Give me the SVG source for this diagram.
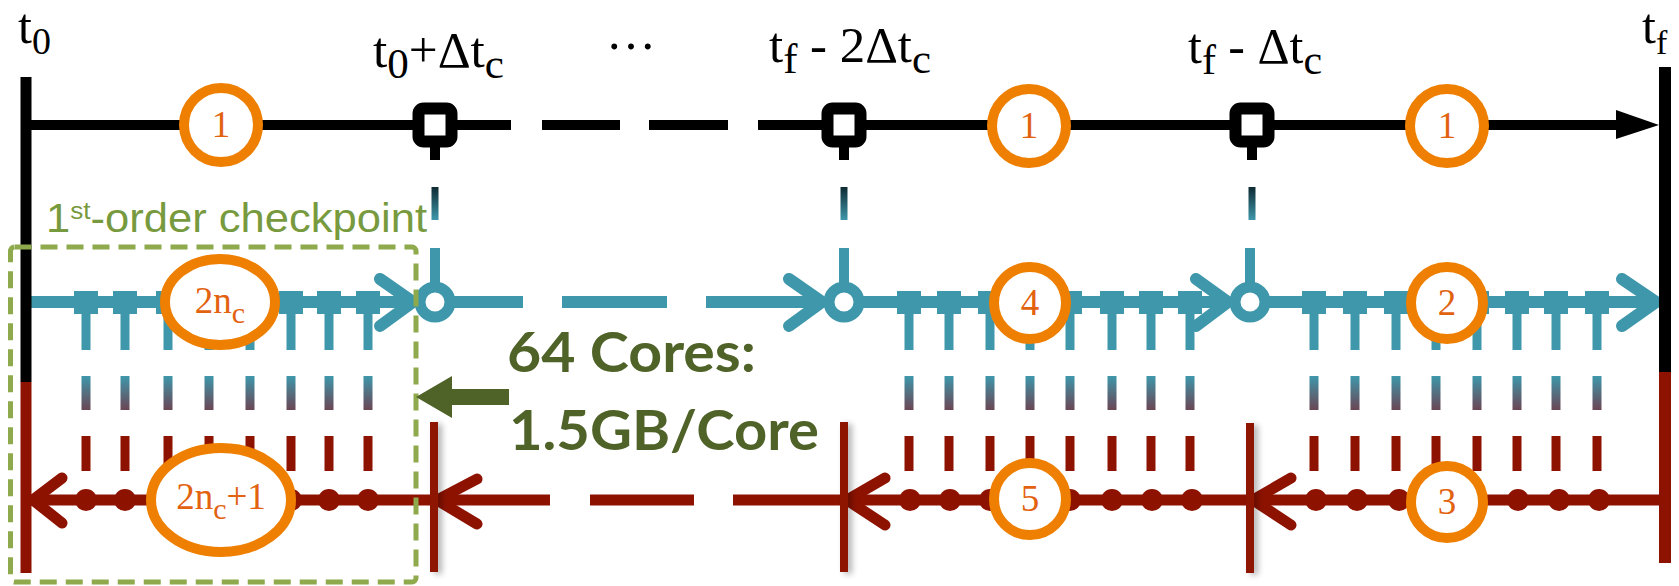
<svg xmlns="http://www.w3.org/2000/svg" width="1679" height="586" viewBox="0 0 1679 586">
<style>
.blk{stroke:#000;stroke-width:10;fill:none}
.tl{stroke:#3F97AB;stroke-width:12;fill:none}
.tlc{stroke:#3F97AB;stroke-width:12;fill:none;stroke-linecap:round;stroke-linejoin:round}
.rd{stroke:#8E1200;stroke-width:11;fill:none}
.rdc{stroke:#8E1200;stroke-width:11;fill:none;stroke-linecap:round;stroke-linejoin:round}
.stem{stroke:#3F97AB;stroke-width:9}
.oc{fill:#fff;stroke:#EE7F00;stroke-width:10}
.num{font-family:"Liberation Serif",serif;font-size:37px;fill:#E2620F;text-anchor:middle}
.lbl{font-family:"Liberation Serif",serif;font-size:50px;fill:#000}
.big{font-family:Lato,"Liberation Sans",sans-serif;font-weight:bold;font-size:56px;fill:#4F6228}
</style>
<defs>
<linearGradient id="g1" x1="0" y1="0" x2="0" y2="1"><stop offset="0" stop-color="#0E2A33"/><stop offset="1" stop-color="#3F97AB"/></linearGradient>
<linearGradient id="g2" x1="0" y1="0" x2="0" y2="1"><stop offset="0" stop-color="#3F97AB"/><stop offset="1" stop-color="#6B4654"/></linearGradient>
<filter id="sh" x="-2" y="-0.1" width="5" height="1.2"><feGaussianBlur in="SourceAlpha" stdDeviation="3"/><feOffset dx="4" dy="2"/><feComponentTransfer><feFuncA type="linear" slope="0.3"/></feComponentTransfer><feMerge><feMergeNode/><feMergeNode in="SourceGraphic"/></feMerge></filter>
</defs>
<rect width="1679" height="586" fill="#fff"/>

<g id="connectors">
  <line class="blk" x1="26" y1="125" x2="511" y2="125"/>
  <line class="blk" x1="542" y1="125" x2="620" y2="125"/>
  <line class="blk" x1="649" y1="125" x2="728" y2="125"/>
  <line class="blk" x1="758" y1="125" x2="1620" y2="125"/>
  <polygon points="1616,110 1659,125 1616,139" fill="#000"/>
  <g id="links">
    <line x1="435" y1="146" x2="435" y2="160" stroke="#000" stroke-width="10"/>
    <rect x="431.5" y="187" width="7" height="33" fill="url(#g1)"/>
    <line x1="435" y1="248" x2="435" y2="290" stroke="#3F97AB" stroke-width="10"/>
    <line x1="844" y1="146" x2="844" y2="160" stroke="#000" stroke-width="10"/>
    <rect x="840.5" y="187" width="7" height="33" fill="url(#g1)"/>
    <line x1="844" y1="248" x2="844" y2="290" stroke="#3F97AB" stroke-width="10"/>
    <line x1="1252" y1="146" x2="1252" y2="160" stroke="#000" stroke-width="10"/>
    <rect x="1248.5" y="187" width="7" height="33" fill="url(#g1)"/>
    <line x1="1250" y1="248" x2="1250" y2="290" stroke="#3F97AB" stroke-width="10"/>
  </g>
  <line class="tl" x1="31" y1="302" x2="412" y2="302"/>
  <polyline class="tlc" points="380,279 413,302 380,326"/>
  <line class="tl" x1="450" y1="302" x2="523" y2="302"/>
  <line class="tl" x1="562" y1="302" x2="667" y2="302"/>
  <line class="tl" x1="706" y1="302" x2="820" y2="302"/>
  <polyline class="tlc" points="789,279 822,302 789,326"/>
  <line class="tl" x1="859" y1="302" x2="1226" y2="302"/>
  <polyline class="tlc" points="1196,279 1228,302 1196,326"/>
  <line class="tl" x1="1265" y1="302" x2="1654" y2="302"/>
  <polyline class="tlc" points="1622,279 1656,302 1622,326"/>
  <g id="teal-ticks" fill="#3F97AB">
    <g transform="translate(86,0)"><rect x="-12" y="291" width="24" height="23"/><line class="stem" x1="0" y1="303" x2="0" y2="350"/></g>
    <g transform="translate(125,0)"><rect x="-12" y="291" width="24" height="23"/><line class="stem" x1="0" y1="303" x2="0" y2="350"/></g>
    <g transform="translate(168,0)"><rect x="-12" y="291" width="24" height="23"/><line class="stem" x1="0" y1="303" x2="0" y2="350"/></g>
    <g transform="translate(209,0)"><rect x="-12" y="291" width="24" height="23"/><line class="stem" x1="0" y1="303" x2="0" y2="350"/></g>
    <g transform="translate(250,0)"><rect x="-12" y="291" width="24" height="23"/><line class="stem" x1="0" y1="303" x2="0" y2="350"/></g>
    <g transform="translate(291,0)"><rect x="-12" y="291" width="24" height="23"/><line class="stem" x1="0" y1="303" x2="0" y2="350"/></g>
    <g transform="translate(329,0)"><rect x="-12" y="291" width="24" height="23"/><line class="stem" x1="0" y1="303" x2="0" y2="350"/></g>
    <g transform="translate(368,0)"><rect x="-12" y="291" width="24" height="23"/><line class="stem" x1="0" y1="303" x2="0" y2="350"/></g>
    <g transform="translate(909,0)"><rect x="-12" y="291" width="24" height="23"/><line class="stem" x1="0" y1="303" x2="0" y2="350"/></g>
    <g transform="translate(949,0)"><rect x="-12" y="291" width="24" height="23"/><line class="stem" x1="0" y1="303" x2="0" y2="350"/></g>
    <g transform="translate(990,0)"><rect x="-12" y="291" width="24" height="23"/><line class="stem" x1="0" y1="303" x2="0" y2="350"/></g>
    <g transform="translate(1030,0)"><rect x="-12" y="291" width="24" height="23"/><line class="stem" x1="0" y1="303" x2="0" y2="350"/></g>
    <g transform="translate(1070,0)"><rect x="-12" y="291" width="24" height="23"/><line class="stem" x1="0" y1="303" x2="0" y2="350"/></g>
    <g transform="translate(1112,0)"><rect x="-12" y="291" width="24" height="23"/><line class="stem" x1="0" y1="303" x2="0" y2="350"/></g>
    <g transform="translate(1151,0)"><rect x="-12" y="291" width="24" height="23"/><line class="stem" x1="0" y1="303" x2="0" y2="350"/></g>
    <g transform="translate(1190,0)"><rect x="-12" y="291" width="24" height="23"/><line class="stem" x1="0" y1="303" x2="0" y2="350"/></g>
    <g transform="translate(1314,0)"><rect x="-12" y="291" width="24" height="23"/><line class="stem" x1="0" y1="303" x2="0" y2="350"/></g>
    <g transform="translate(1355,0)"><rect x="-12" y="291" width="24" height="23"/><line class="stem" x1="0" y1="303" x2="0" y2="350"/></g>
    <g transform="translate(1396,0)"><rect x="-12" y="291" width="24" height="23"/><line class="stem" x1="0" y1="303" x2="0" y2="350"/></g>
    <g transform="translate(1436,0)"><rect x="-12" y="291" width="24" height="23"/><line class="stem" x1="0" y1="303" x2="0" y2="350"/></g>
    <g transform="translate(1477,0)"><rect x="-12" y="291" width="24" height="23"/><line class="stem" x1="0" y1="303" x2="0" y2="350"/></g>
    <g transform="translate(1517,0)"><rect x="-12" y="291" width="24" height="23"/><line class="stem" x1="0" y1="303" x2="0" y2="350"/></g>
    <g transform="translate(1556,0)"><rect x="-12" y="291" width="24" height="23"/><line class="stem" x1="0" y1="303" x2="0" y2="350"/></g>
    <g transform="translate(1597,0)"><rect x="-12" y="291" width="24" height="23"/><line class="stem" x1="0" y1="303" x2="0" y2="350"/></g>
  </g>
  <g id="transfer-dashes">
    <g fill="url(#g2)">
      <rect x="81.5" y="376" width="9" height="34"/><rect x="120.5" y="376" width="9" height="34"/><rect x="163.5" y="376" width="9" height="34"/><rect x="204.5" y="376" width="9" height="34"/><rect x="245.5" y="376" width="9" height="34"/><rect x="286.5" y="376" width="9" height="34"/><rect x="324.5" y="376" width="9" height="34"/><rect x="363.5" y="376" width="9" height="34"/>
      <rect x="904.5" y="376" width="9" height="34"/><rect x="944.5" y="376" width="9" height="34"/><rect x="985.5" y="376" width="9" height="34"/><rect x="1025.5" y="376" width="9" height="34"/><rect x="1065.5" y="376" width="9" height="34"/><rect x="1107.5" y="376" width="9" height="34"/><rect x="1146.5" y="376" width="9" height="34"/><rect x="1185.5" y="376" width="9" height="34"/>
      <rect x="1309.5" y="376" width="9" height="34"/><rect x="1350.5" y="376" width="9" height="34"/><rect x="1391.5" y="376" width="9" height="34"/><rect x="1431.5" y="376" width="9" height="34"/><rect x="1472.5" y="376" width="9" height="34"/><rect x="1512.5" y="376" width="9" height="34"/><rect x="1551.5" y="376" width="9" height="34"/><rect x="1592.5" y="376" width="9" height="34"/>
    </g>
    <g fill="#8E1200">
      <rect x="81.5" y="436" width="9" height="35"/><rect x="120.5" y="436" width="9" height="35"/><rect x="163.5" y="436" width="9" height="35"/><rect x="204.5" y="436" width="9" height="35"/><rect x="245.5" y="436" width="9" height="35"/><rect x="286.5" y="436" width="9" height="35"/><rect x="324.5" y="436" width="9" height="35"/><rect x="363.5" y="436" width="9" height="35"/>
      <rect x="904.5" y="436" width="9" height="35"/><rect x="944.5" y="436" width="9" height="35"/><rect x="985.5" y="436" width="9" height="35"/><rect x="1025.5" y="436" width="9" height="35"/><rect x="1065.5" y="436" width="9" height="35"/><rect x="1107.5" y="436" width="9" height="35"/><rect x="1146.5" y="436" width="9" height="35"/><rect x="1185.5" y="436" width="9" height="35"/>
      <rect x="1309.5" y="436" width="9" height="35"/><rect x="1350.5" y="436" width="9" height="35"/><rect x="1391.5" y="436" width="9" height="35"/><rect x="1431.5" y="436" width="9" height="35"/><rect x="1472.5" y="436" width="9" height="35"/><rect x="1512.5" y="436" width="9" height="35"/><rect x="1551.5" y="436" width="9" height="35"/><rect x="1592.5" y="436" width="9" height="35"/>
    </g>
  </g>
  <line class="rd" x1="31" y1="500" x2="550" y2="500"/>
  <line class="rd" x1="590" y1="500" x2="694" y2="500"/>
  <line class="rd" x1="733" y1="500" x2="1659" y2="500"/>
  <polyline class="rdc" points="62,478 33,500 62,523"/>
  <polyline class="rdc" points="477,479 437,500 477,524"/>
  <polyline class="rdc" points="885,478 847,500 885,525"/>
  <polyline class="rdc" points="1291,478 1253,500 1291,525"/>
  <g id="red-dots" fill="#8E1200">
    <circle cx="86" cy="500" r="11"/><circle cx="125" cy="500" r="11"/><circle cx="168" cy="500" r="11"/><circle cx="209" cy="500" r="11"/><circle cx="250" cy="500" r="11"/><circle cx="291" cy="500" r="11"/><circle cx="329" cy="500" r="11"/><circle cx="368" cy="500" r="11"/>
    <circle cx="910" cy="500" r="11"/><circle cx="950" cy="500" r="11"/><circle cx="990" cy="500" r="11"/><circle cx="1030" cy="500" r="11"/><circle cx="1070" cy="500" r="11"/><circle cx="1112" cy="500" r="11"/><circle cx="1152" cy="500" r="11"/><circle cx="1192" cy="500" r="11"/>
    <circle cx="1316" cy="500" r="11"/><circle cx="1357" cy="500" r="11"/><circle cx="1399" cy="500" r="11"/><circle cx="1436" cy="500" r="11"/><circle cx="1477" cy="500" r="11"/><circle cx="1518" cy="500" r="11"/><circle cx="1559" cy="500" r="11"/><circle cx="1599" cy="500" r="11"/>
  </g>
  <g id="red-bars" fill="#8E1200" filter="url(#sh)">
    <rect x="430" y="422" width="8" height="150"/>
    <rect x="840" y="422" width="8" height="150"/>
    <rect x="1246" y="423" width="8" height="150"/>
  </g>
</g>

<g id="bar-t0">
  <rect x="20.5" y="77" width="11" height="305" fill="#000"/>
  <rect x="20.5" y="382" width="11" height="191" fill="#8E1200"/>
</g>
<g id="bar-tf">
  <rect x="1659" y="67" width="12" height="305" fill="#000"/>
  <rect x="1659" y="372" width="12" height="191" fill="#8E1200"/>
</g>

<g id="cp1"><rect x="418.5" y="108.5" width="33" height="33" rx="5" fill="#fff" stroke="#000" stroke-width="12"/></g>
<g id="cp2"><rect x="827.5" y="108.5" width="33" height="33" rx="5" fill="#fff" stroke="#000" stroke-width="12"/></g>
<g id="cp3"><rect x="1235.5" y="108.5" width="33" height="33" rx="5" fill="#fff" stroke="#000" stroke-width="12"/></g>

<g id="rc1"><circle cx="435" cy="302" r="15" fill="#fff" stroke="#3F97AB" stroke-width="11"/></g>
<g id="rc2"><circle cx="844" cy="302" r="15" fill="#fff" stroke="#3F97AB" stroke-width="11"/></g>
<g id="rc3"><circle cx="1250" cy="302" r="15" fill="#fff" stroke="#3F97AB" stroke-width="11"/></g>

<g id="n-top1"><circle class="oc" cx="221" cy="125" r="37"/><text class="num" x="221" y="137">1</text></g>
<g id="n-top2"><circle class="oc" cx="1029" cy="126" r="37"/><text class="num" x="1029" y="138">1</text></g>
<g id="n-top3"><circle class="oc" cx="1447" cy="126" r="37"/><text class="num" x="1447" y="138">1</text></g>
<g id="n-2nc"><ellipse class="oc" cx="220" cy="302" rx="55" ry="43"/><text class="num" x="220" y="313" font-size="40">2n<tspan font-size="30" dy="10">c</tspan></text></g>
<g id="n-4"><circle class="oc" cx="1030" cy="303" r="36"/><text class="num" x="1030" y="315">4</text></g>
<g id="n-2"><circle class="oc" cx="1447" cy="303" r="36"/><text class="num" x="1447" y="315">2</text></g>
<g id="n-2nc1"><ellipse class="oc" cx="221" cy="500" rx="70" ry="52"/><text class="num" x="221" y="509" font-size="40">2n<tspan font-size="30" dy="10">c</tspan><tspan dy="-10">+1</tspan></text></g>
<g id="n-5"><circle class="oc" cx="1030" cy="499" r="36"/><text class="num" x="1030" y="511">5</text></g>
<g id="n-3"><circle class="oc" cx="1447" cy="502" r="36"/><text class="num" x="1447" y="514">3</text></g>

<g id="labels">
  <text class="lbl" x="18" y="43" font-size="46">t<tspan font-size="38" dy="11">0</tspan></text>
  <text class="lbl" x="373" y="67" textLength="131" lengthAdjust="spacingAndGlyphs">t<tspan font-size="42" dy="11">0</tspan><tspan dy="-11">+Δt</tspan><tspan font-size="42" dy="11">c</tspan></text>
  <text class="lbl" x="606" y="49" font-size="46">…</text>
  <text class="lbl" x="769" y="62" textLength="162" lengthAdjust="spacingAndGlyphs">t<tspan font-size="42" dy="11">f</tspan><tspan dy="-11"> - 2Δt</tspan><tspan font-size="42" dy="11">c</tspan></text>
  <text class="lbl" x="1188" y="63" textLength="134" lengthAdjust="spacingAndGlyphs">t<tspan font-size="42" dy="11">f</tspan><tspan dy="-11"> - Δt</tspan><tspan font-size="42" dy="11">c</tspan></text>
  <text class="lbl" x="1642" y="43" font-size="44">t<tspan font-size="34" dy="11">f</tspan></text>
</g>

<g id="checkpoint-box">
  <rect x="10.5" y="247" width="405.5" height="335" rx="4" fill="none" stroke="#8EAA4C" stroke-width="5" stroke-dasharray="17 9"/>
  <text x="46" y="232" font-family="Liberation Sans,Arial,sans-serif" font-size="40" fill="#789A3E" textLength="381" lengthAdjust="spacingAndGlyphs">1<tspan font-size="24" dy="-13">st</tspan><tspan dy="13">-order checkpoint</tspan></text>
</g>

<g id="memory-note">
  <polygon points="416,397 452,376 452,389 509,389 509,405 452,405 452,418" fill="#4F6228"/>
  <text class="big" x="507" y="372" textLength="249" lengthAdjust="spacingAndGlyphs">64 Cores:</text>
  <text class="big" x="509" y="450" textLength="310" lengthAdjust="spacingAndGlyphs">1.5GB/Core</text>
</g>
</svg>
